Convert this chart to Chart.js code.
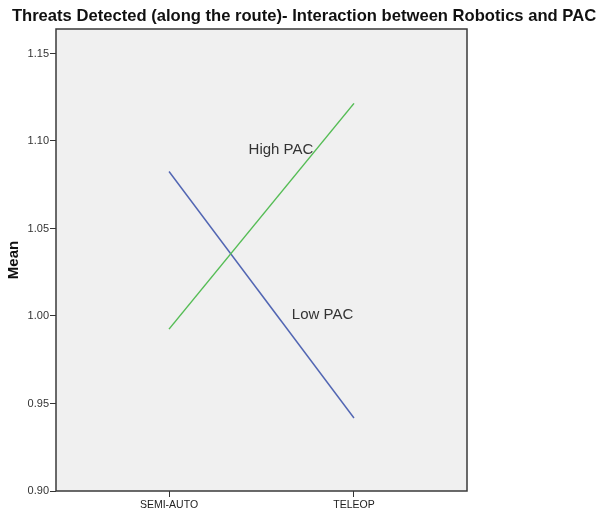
<!DOCTYPE html>
<html>
<head>
<meta charset="utf-8">
<script src="https://cdn.jsdelivr.net/npm/chart.js@4/dist/chart.umd.min.js"></script>
<style>
	html, body { margin: 0; padding: 0; background: #fff; }
	#wrap { width: 608px; height: 513px; }
</style>
</head>
<body>
<div id="wrap"><canvas id="interactionChart"></canvas></div>
<script>
const chartTitle = "Threats Detected (along the route)- Interaction between Robotics and PAC";
const categories = ["SEMI-AUTO", "TELEOP"];
const highPAC = [0.9925, 1.1215];
const lowPAC = [1.0826, 0.9417];
const yTicks = [0.90, 0.95, 1.00, 1.05, 1.10, 1.15];
const lineLabels = [
	{ text: "High PAC", x: 0.605, y: 1.095 },
	{ text: "Low PAC", x: 0.83, y: 1.0005 },
];
const FONT = "'Liberation Sans', Arial, sans-serif";

// plot background, border, page title and the in-chart series labels
const plotFrame = {
	id: "plotFrame",
	beforeDraw(chart) {
		const a = chart.chartArea;
		const ctx = chart.ctx;
		ctx.save();
		ctx.fillStyle = "#f0f0f0";
		ctx.fillRect(a.left, a.top, a.right - a.left, a.bottom - a.top);
		ctx.restore();
	},
	afterDraw(chart) {
		const a = chart.chartArea;
		const ctx = chart.ctx;
		ctx.save();
		ctx.strokeStyle = "#3a3a3a";
		ctx.lineWidth = 1.5;
		ctx.strokeRect(a.left, a.top, a.right - a.left, a.bottom - a.top);

		ctx.fillStyle = "#111";
		ctx.font = "bold 16.6px " + FONT;
		ctx.textAlign = "center";
		ctx.textBaseline = "alphabetic";
		ctx.fillText(chartTitle, chart.width / 2, 21);

		ctx.fillStyle = "#333";
		ctx.font = "15px " + FONT;
		ctx.textBaseline = "middle";
		lineLabels.forEach((l) => {
			ctx.fillText(l.text, chart.scales.x.getPixelForValue(l.x), chart.scales.y.getPixelForValue(l.y));
		});
		ctx.restore();
	},
};

function toPoints(values) {
	return values.map((v, i) => ({ x: i, y: v }));
}

const ctx = document.getElementById("interactionChart").getContext("2d");
const myChart = new Chart(ctx, {
	type: "line",
	data: {
		datasets: [
			{ label: "High PAC", data: toPoints(highPAC), borderColor: "#55bd55", borderWidth: 1.5, pointRadius: 0 },
			{ label: "Low PAC", data: toPoints(lowPAC), borderColor: "#5266b3", borderWidth: 1.5, pointRadius: 0 },
		],
	},
	options: {
		responsive: true,
		maintainAspectRatio: false,
		animation: false,
		layout: { padding: { top: 29, right: 141, bottom: 0, left: 0 } },
		plugins: {
			legend: { display: false },
			tooltip: { enabled: false },
			title: { display: false },
		},
		scales: {
			x: {
				type: "linear",
				min: -0.611,
				max: 1.611,
				afterBuildTicks: (scale) => {
					scale.ticks = categories.map((c, i) => ({ value: i }));
				},
				afterFit: (scale) => {
					scale.height = 22;
				},
				ticks: {
					callback: (v) => categories[v],
					color: "#222",
					font: { family: FONT, size: 10.5 },
					padding: 2,
					maxRotation: 0,
					autoSkip: false,
				},
				grid: { drawOnChartArea: false, tickLength: 6, color: "#333", lineWidth: 1 },
				border: { display: false },
			},
			y: {
				min: 0.9,
				max: 1.164,
				afterBuildTicks: (scale) => {
					scale.ticks = yTicks.map((v) => ({ value: v }));
				},
				afterFit: (scale) => {
					scale.width = 56;
				},
				title: {
					display: true,
					text: "Mean",
					color: "#111",
					font: { family: FONT, size: 15, weight: "bold" },
					padding: { top: 5, bottom: 0 },
				},
				ticks: {
					callback: (v) => v.toFixed(2),
					color: "#333",
					font: { family: FONT, size: 11 },
					padding: 1,
				},
				grid: { drawOnChartArea: false, tickLength: 6, color: "#333", lineWidth: 1 },
				border: { display: false },
			},
		},
	},
	plugins: [plotFrame],
});
</script>
</body>
</html>
